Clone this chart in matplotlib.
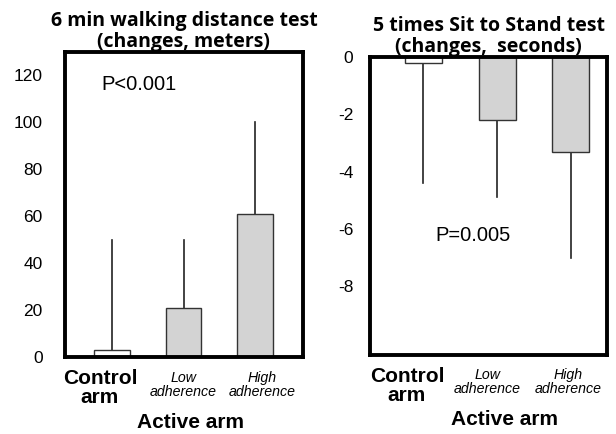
import matplotlib.pyplot as plt
import matplotlib.transforms as mtransforms

plt.rcParams['font.family'] = ['Liberation Sans', 'DejaVu Sans']
plt.rcParams['axes.unicode_minus'] = False

groups = ['Control', 'Low', 'High']
group_labels = ['Control\narm', 'Low\nadherence', 'High\nadherence']

# 6 min walking distance (changes, meters)
walk_mean = [3, 21, 61]
walk_err_top = [50, 50, 100]

# 5 times sit to stand (changes, seconds)
sts_mean = [-0.2, -2.2, -3.3]
sts_err_bottom = [-4.4, -4.9, -7.0]

bar_colors = ['white', '#d3d3d3', '#d3d3d3']
xs = [0, 1, 2]

fig = plt.figure(figsize=(6.16, 4.34), dpi=100)
ax1 = fig.add_axes([0.1055, 0.1774, 0.386, 0.7028])
ax2 = fig.add_axes([0.6006, 0.182, 0.385, 0.6866])


def draw_panel(ax, means, err_ends, title, ptext, pxy, label_dx, ypad):
    ax.bar(xs, means, width=0.5, color=bar_colors, edgecolor='#333333',
           linewidth=1.0, zorder=2)
    for x, m, e in zip(xs, means, err_ends):
        ax.plot([x, x], [m, e], color='#222222', lw=1.2, zorder=1)
    for s in ax.spines.values():
        s.set_linewidth(2.8)
        s.set_color('black')
    ax.set_xticks([])
    ax.tick_params(axis='y', length=0, pad=ypad, labelsize=12.5)
    ax.set_title(title, fontsize=14, fontweight='bold',
                 family=['Open Sans', 'DejaVu Sans'], pad=2, linespacing=1.05)
    ax.text(pxy[0], pxy[1], ptext, fontsize=14.5, ha='center', va='center',
            transform=ax.transAxes)
    tr = mtransforms.blended_transform_factory(ax.transData, ax.transAxes)
    for i, lab in enumerate(group_labels):
        if i == 0:
            ax.text(xs[i] + label_dx[i], -0.04, lab, transform=tr, ha='center',
                    va='top', fontsize=15, fontweight='bold', linespacing=1.0)
        else:
            ax.text(xs[i] + label_dx[i], -0.045, lab, transform=tr, ha='center',
                    va='top', fontsize=10.2, style='italic', linespacing=1.0)
    ax.text(1.1, -0.185, 'Active arm', transform=tr, ha='center', va='top',
            fontsize=15, fontweight='bold')


draw_panel(ax1, walk_mean, walk_err_top,
           '6 min walking distance test\n(changes, meters)',
           'P<0.001', (0.31, 0.895), [-0.17, 0.0, 0.1], 16)
ax1.set_xlim(-0.66, 2.67)
ax1.set_ylim(0, 130)
ax1.set_yticks([0, 20, 40, 60, 80, 100, 120])

draw_panel(ax2, sts_mean, sts_err_bottom,
           '5 times Sit to Stand test\n(changes,  seconds)',
           'P=0.005', (0.435, 0.40), [-0.22, -0.13, -0.04], 12)
ax2.set_xlim(-0.72, 2.49)
ax2.set_ylim(-10.4, 0)
ax2.set_yticks([0, -2, -4, -6, -8])

fig.savefig('out.png', dpi=100)
